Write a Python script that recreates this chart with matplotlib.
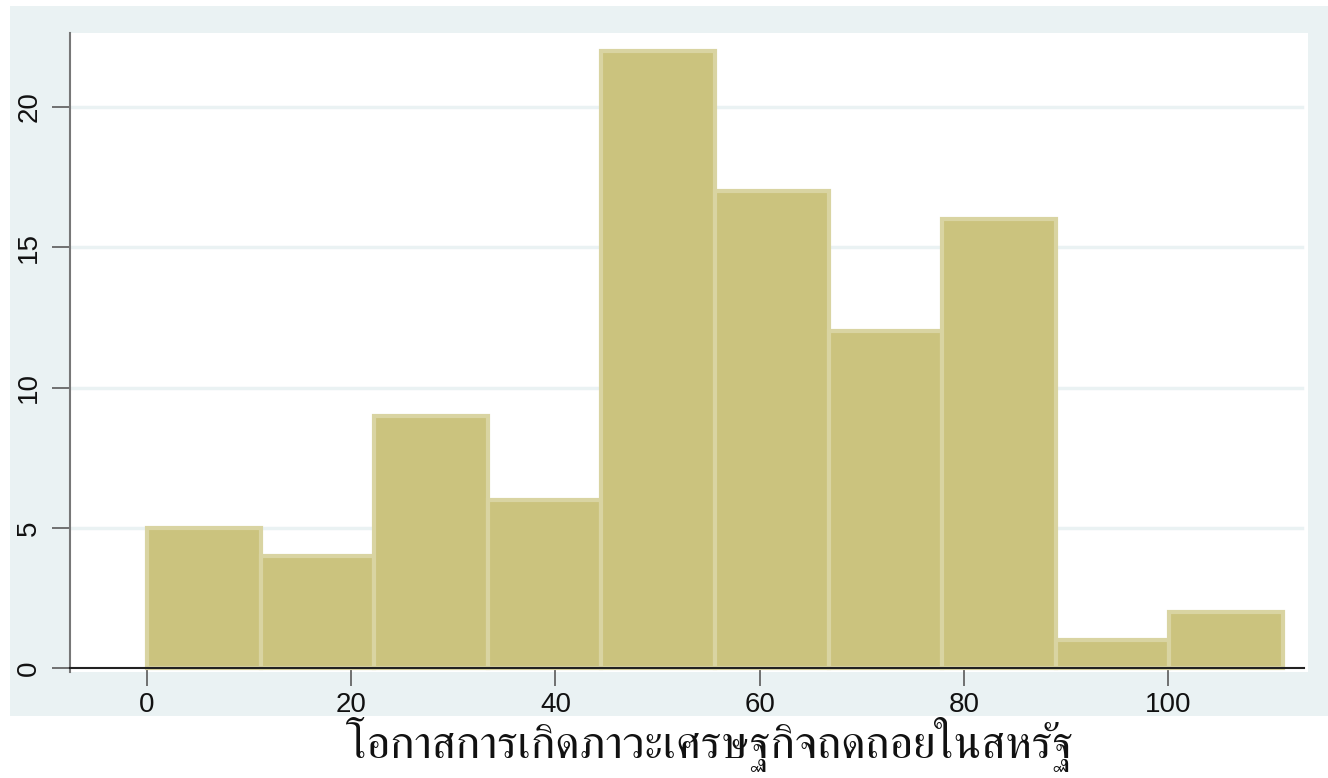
import numpy as np
import matplotlib
matplotlib.use("Agg")
import matplotlib.pyplot as plt
from matplotlib import font_manager
from matplotlib.ft2font import FT2Font
from matplotlib.patches import Rectangle

# histogram data
bin_start = 0.0
bin_width = 11.125
counts = [5, 4, 9, 6, 22, 17, 12, 16, 1, 2]
x_ticks = [0, 20, 40, 60, 80, 100]
y_ticks = [0, 5, 10, 15, 20]
x_label = "โอกาสการเกิดภาวะเศรษฐกิจถดถอยในสหรัฐ"

BG = "#EAF2F3"
BAR = "#CBC37E"
BAR_EDGE = "#D9D4A2"


def find_thai_font():
    names = []
    for f in font_manager.fontManager.ttflist:
        try:
            if 0x0E01 in FT2Font(f.fname).get_charmap():
                names.append(f.name)
        except Exception:
            pass
    # a serif / looped face is closer to the original
    names.sort(key=lambda n: 0 if ("Serif" in n or "Looped" in n) else 1)
    return names


thai = find_thai_font()
label_family = thai[:1] + ["DejaVu Sans"] if thai else ["DejaVu Sans"]

plt.rcParams['font.family'] = ['Liberation Sans', 'DejaVu Sans']

fig = plt.figure(figsize=(13.28, 7.78), dpi=100)
fig.patch.set_facecolor("white")
W, H = 1328, 778
fig.patches.append(Rectangle((10 / W, (H - 716) / H), 1318 / W, 710 / H,
                             transform=fig.transFigure, facecolor=BG,
                             edgecolor="none", zorder=-5))

ax = fig.add_axes([70 / W, (H - 672) / H, 1238 / W, 639 / H])
ax.set_zorder(2)
ax.set_facecolor("white")

edges = bin_start + bin_width * np.arange(len(counts) + 1)
ax.bar(edges[:-1], counts, width=bin_width, align="edge", color=BAR,
       edgecolor=BAR_EDGE, linewidth=3, zorder=3)

ax.set_xlim(-7.54, 113.7)
ax.set_ylim(-0.14, 22.64)

for y in y_ticks[1:]:
    ax.axhline(y, xmax=0.995, color=BG, linewidth=2.5, zorder=1)

for s in ["top", "right"]:
    ax.spines[s].set_visible(False)
ax.spines["left"].set_color("#777777")
ax.spines["left"].set_linewidth(1.5)
ax.spines["bottom"].set_position(("data", 0))
ax.spines["bottom"].set_bounds(-7.54, 113.3)
ax.spines["bottom"].set_color("#222222")
ax.spines["bottom"].set_linewidth(1.5)
ax.spines["bottom"].set_zorder(4)

ax.set_xticks(x_ticks)
ax.set_yticks(y_ticks)
ax.set_yticklabels([str(v) for v in y_ticks], rotation=90, va="center")
ax.tick_params(axis="both", direction="out", length=13, width=1.3,
               color="#666666", labelsize=20, labelcolor="#111111")
ax.tick_params(axis="x", pad=4)
ax.tick_params(axis="y", pad=7)

fig.text(710 / W, 1 - 757 / H, x_label, ha="center", va="baseline",
         fontsize=33, family=label_family, color="#111111")

plt.savefig("out.png", dpi=100, facecolor=fig.get_facecolor())
plt.close()
